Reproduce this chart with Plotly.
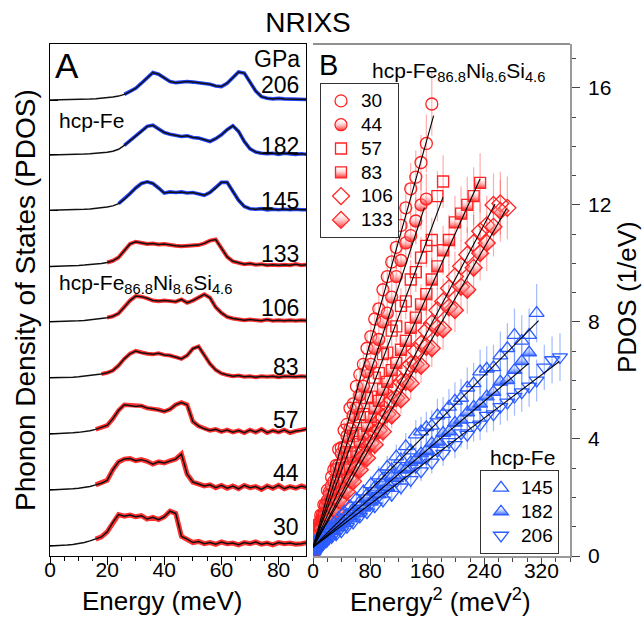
import plotly.graph_objects as go

# ---------------- Panel A data: stacked phonon DOS spectra ----------------
energy = [0, 2, 4, 6, 8, 10, 12, 14, 16, 18, 20, 22, 24, 26, 28, 30, 32, 34, 36, 38,
          40, 42, 44, 46, 48, 50, 52, 54, 56, 58, 60, 62, 64, 66, 68, 70, 72, 74, 76, 78,
          80, 82, 84, 86, 88, 90]
pressures = ["30", "44", "57", "83", "106", "133", "145", "182", "206"]

pdos_30 = [0, .002, .008, .015, .025, .04, .06, .09, .12, .16, .25, .42, .56, .53, .55, .52, .54, .48, .51, .47,
           .52, .62, .58, .17, .12, .06, .08, .04, .06, .03, .07, .04, .05, .02, .06, .04, .07, .03, .05, .02,
           .06, .04, .05, .03, .04, .06]
pdos_44 = [0, .002, .006, .012, .02, .03, .045, .06, .09, .12, .17, .36, .50, .55, .56, .52, .54, .51, .46, .50,
           .48, .52, .55, .64, .28, .14, .10, .07, .09, .04, .08, .03, .07, .02, .08, .04, .06, .01, .07, .03,
           .08, .02, .06, .03, .07, .04]
pdos_57 = [0, .002, .006, .01, .018, .027, .04, .055, .08, .11, .15, .27, .42, .52, .51, .49, .50, .46, .45, .43,
           .40, .44, .52, .56, .52, .22, .14, .09, .06, .08, .04, .07, .03, .06, .02, .07, .03, .08, .02, .06,
           .03, .07, .02, .05, .06, .09]
pdos_83 = [0, .001, .004, .008, .013, .02, .03, .04, .055, .07, .09, .13, .22, .34, .43, .48, .45, .43, .42, .44,
           .41, .40, .37, .34, .40, .52, .56, .40, .25, .14, .08, .05, .03, .04, .02, .03, .01, .03, .02, .03,
           .01, .03, .02, .02, .03, .02]
pdos_106 = [0, .001, .003, .007, .012, .018, .026, .035, .045, .058, .075, .10, .15, .26, .38, .46, .45, .42, .38, .37,
            .38, .37, .36, .40, .34, .38, .44, .49, .43, .26, .16, .09, .06, .05, .03, .04, .03, .02, .04, .02,
            .03, .02, .03, .02, .03, .02]
pdos_133 = [0, .001, .003, .006, .01, .016, .023, .031, .04, .052, .07, .10, .16, .28, .40, .44, .42, .40, .41, .39,
            .40, .38, .37, .36, .37, .37, .38, .41, .46, .48, .32, .17, .09, .06, .04, .05, .03, .04, .02, .03,
            .02, .03, .02, .04, .02, .03]
pdos_145 = [0, .001, .002, .005, .008, .012, .018, .025, .033, .045, .06, .08, .12, .20, .30, .40, .48, .51, .48, .40,
            .31, .33, .32, .33, .31, .32, .29, .27, .32, .40, .50, .50, .34, .18, .07, .03, .02, .03, .01, .02,
            .01, .02, .01, .02, .01, .01]
pdos_182 = [0, .001, .002, .004, .007, .01, .015, .02, .027, .036, .048, .065, .10, .17, .25, .33, .42, .51, .53, .46,
            .40, .37, .35, .33, .34, .31, .30, .27, .24, .29, .36, .45, .52, .42, .24, .11, .05, .03, .02, .03,
            .01, .03, .02, .01, .02, .01]
pdos_206 = [0, .001, .002, .004, .006, .009, .013, .018, .024, .031, .04, .052, .07, .10, .15, .21, .30, .40, .49, .46,
            .39, .33, .31, .32, .33, .32, .31, .30, .28, .25, .24, .30, .40, .50, .48, .33, .16, .06, .03, .02,
            .03, .02, .02, .01, .02, .01]
pdos_A = [pdos_30, pdos_44, pdos_57, pdos_83, pdos_106, pdos_133, pdos_145, pdos_182, pdos_206]

# ---------------- Panel B data: PDOS vs Energy^2 ----------------
e2_grid = [0.81, 1.44, 2.25, 3.24, 4.41, 5.76, 7.29, 9.0, 10.89, 12.96,
           15.21, 17.64, 20.25, 23.04, 26.01, 29.16, 32.49, 36.0, 39.69, 43.56,
           47.61, 51.84, 56.25, 60.84, 65.61, 70.56, 75.69, 81.0, 86.49, 92.16,
           98.01, 104.04, 110.25, 116.64, 123.21, 129.96, 136.89, 144.0, 151.29, 158.76,
           166.41, 174.24, 182.25, 190.44, 198.81, 207.36, 216.09, 225.0, 234.09, 243.36,
           252.81, 262.44, 272.25, 282.24, 292.41, 302.76, 313.29, 324.0, 334.89, 345.96]

dos_30 = [0.55, 0.30, 0.72, 0.48, 0.90, 0.65, 1.10, 0.98, 1.40, 1.30, 1.75, 1.70, 2.25, 2.20, 2.70, 2.95, 3.10,
          3.65, 3.70, 4.30, 4.50, 5.05, 5.20, 5.80, 6.20, 6.55, 7.10, 7.50, 8.10, 8.45, 9.10, 9.55, 10.05,
          10.55, 11.30, 11.90, 12.55, 12.95, 13.45, 14.10, 15.45]
dos_44 = [0.20, 0.55, 0.35, 0.70, 0.58, 0.90, 0.80, 1.12, 1.05, 1.40, 1.38, 1.75, 1.90, 2.10, 2.40, 2.55, 2.95,
          3.10, 3.50, 3.70, 4.10, 4.35, 4.80, 5.05, 5.50, 5.80, 6.30, 6.55, 7.10, 7.40, 8.00, 8.30, 8.85,
          9.55, 10.10, 10.70, 10.95, 11.45, 12.00, 12.20]
dos_57 = [0.45, 0.25, 0.60, 0.40, 0.75, 0.55, 0.95, 0.80, 1.15, 1.05, 1.40, 1.35, 1.75, 1.70, 2.10, 2.05, 2.55,
          2.50, 3.00, 2.95, 3.55, 3.50, 4.10, 4.20, 4.75, 4.85, 5.40, 5.45, 6.10, 6.25, 6.90, 6.95, 7.70,
          7.85, 8.55, 8.70, 9.45, 9.70, 10.20, 10.60, 10.80, 12.30, 12.80]
dos_83 = [0.50, 0.20, 0.55, 0.35, 0.70, 0.50, 0.85, 0.65, 1.00, 0.95, 1.20, 1.15, 1.45, 1.50, 1.75, 1.85, 2.10,
          2.30, 2.50, 2.60, 2.95, 3.05, 3.40, 3.55, 3.90, 4.15, 4.45, 4.75, 5.05, 5.30, 5.70, 5.95, 6.35,
          6.60, 7.05, 7.35, 7.80, 8.15, 8.60, 8.95, 9.45, 9.90, 10.45, 10.80, 11.40, 11.70, 12.00, 12.30, 12.75]
dos_106 = [0.40, 0.20, 0.50, 0.30, 0.60, 0.45, 0.75, 0.60, 0.90, 0.80, 1.05, 1.00, 1.25, 1.30, 1.45, 1.60, 1.75,
           1.95, 2.05, 2.30, 2.40, 2.70, 2.80, 3.15, 3.25, 3.60, 3.70, 4.10, 4.20, 4.60, 4.75, 5.15, 5.35,
           5.75, 5.95, 6.40, 6.55, 7.00, 7.25, 7.70, 7.95, 8.40, 8.70, 9.15, 9.55, 9.90, 10.30, 10.70, 11.10,
           11.30, 12.00, 12.05, 11.90]
dos_133 = [0.25, 0.45, 0.30, 0.55, 0.40, 0.65, 0.55, 0.75, 0.70, 0.95, 0.85, 1.10, 1.05, 1.35, 1.30, 1.60, 1.55,
           1.90, 1.85, 2.25, 2.20, 2.60, 2.55, 3.00, 2.95, 3.40, 3.35, 3.85, 3.80, 4.30, 4.25, 4.85, 4.80,
           5.40, 5.35, 5.95, 5.90, 6.55, 6.50, 7.15, 7.10, 7.80, 7.75, 8.50, 8.40, 9.20, 9.10, 9.85, 10.35,
           10.70, 11.25, 11.80]
dos_145 = [0.15, 0.45, 0.25, 0.50, 0.30, 0.55, 0.40, 0.62, 0.50, 0.75, 0.60, 0.85, 0.75, 0.98, 0.90, 1.12, 1.05,
           1.30, 1.20, 1.50, 1.40, 1.70, 1.60, 1.95, 1.85, 2.20, 2.10, 2.45, 2.35, 2.75, 2.65, 3.05, 2.95,
           3.40, 3.30, 3.75, 3.60, 4.15, 4.25, 4.40, 4.45, 4.80, 4.85, 5.10, 5.30, 5.40, 5.75, 5.90, 6.30,
           6.40, 6.45, 6.85, 7.10, 7.55, 7.35, 7.55, 8.30]
dos_182 = [0.40, 0.20, 0.45, 0.25, 0.50, 0.35, 0.55, 0.40, 0.60, 0.50, 0.70, 0.60, 0.80, 0.70, 0.92, 0.85, 1.05,
           0.98, 1.20, 1.12, 1.35, 1.28, 1.52, 1.45, 1.72, 1.65, 1.95, 1.85, 2.20, 2.10, 2.45, 2.35, 2.70,
           2.65, 2.95, 2.95, 3.20, 3.30, 3.50, 3.60, 3.85, 3.90, 4.20, 4.25, 4.55, 4.65, 4.90, 5.10, 5.20,
           5.45, 5.60, 5.95, 6.00, 6.35, 6.65, 6.95]
dos_206 = [0.20, 0.40, 0.25, 0.45, 0.30, 0.50, 0.35, 0.55, 0.40, 0.62, 0.45, 0.70, 0.55, 0.80, 0.65, 0.90, 0.75,
           1.02, 0.85, 1.15, 1.00, 1.30, 1.15, 1.45, 1.35, 1.62, 1.50, 1.80, 1.70, 2.05, 1.90, 2.30, 2.10,
           2.55, 2.35, 2.80, 2.60, 3.05, 2.90, 3.35, 3.20, 3.60, 3.50, 3.90, 3.80, 4.20, 4.15, 4.45, 4.50,
           4.80, 4.85, 5.10, 5.25, 5.45, 5.60, 5.80, 6.00, 6.45, 6.70, 6.80]
dos_B = [dos_30, dos_44, dos_57, dos_83, dos_106, dos_133, dos_145, dos_182, dos_206]

err_pct = [7, 7, 7, 8, 9, 9, 12, 12, 12]
fit_intercept = 0.3
fit_slope = [0.0873, 0.0744, 0.0657, 0.0538, 0.046, 0.0427, 0.0245, 0.0208, 0.0184]
fit_xmax = [169, 156, 182, 234, 255, 271, 316, 302, 345]

# ---------------- styling / layout parameters ----------------
offsets = [0.18, 1.18, 2.18, 3.18, 4.18, 5.17, 6.17, 7.16, 8.14]
band_start = [16, 16, 16, 18, 20, 20, 24, 26, 26]
band_width = [5, 5, 4.5, 4, 4, 4, 3.6, 3.6, 3.6]
label_dy = [0.34, 0.30, 0.25, 0.20, 0.25, 0.23, 0.17, 0.16, 0.27]
symbols = ['circle-open', 'circle', 'square-open', 'square', 'diamond-open', 'diamond',
           'triangle-up-open', 'triangle-up', 'triangle-down-open']
half_filled = [False, True, False, True, False, True, False, True, False]
msize = [12, 12, 11, 11, 13, 13, 13, 13, 13]

RED = '#ff2323'
BLUE = '#2b5cff'
BAND_RED = '#ff3030'
BAND_BLUE = '#2244ff'
ERR_RED = 'rgba(255,70,70,0.45)'
ERR_BLUE = 'rgba(70,120,255,0.5)'
FONT = 'Arial, Liberation Sans, sans-serif'

W, H = 643, 629
ML, MR, MT, MB = 50, 73, 44, 73
PW = W - ML - MR
PH = H - MT - MB


def px_x(px):
    return (px - ML) / PW


def px_y(py):
    return (H - MB - py) / PH


fig = go.Figure()

# Panel A spectra
for i, (p, y) in enumerate(zip(pressures, pdos_A)):
    col = BAND_BLUE if i >= 6 else BAND_RED
    xs = [e for e in energy if e >= band_start[i]]
    ys = [v + offsets[i] for e, v in zip(energy, y) if e >= band_start[i]]
    fig.add_trace(go.Scatter(x=xs, y=ys, mode='lines', line=dict(color=col, width=band_width[i]),
                             xaxis='x', yaxis='y', showlegend=False, hoverinfo='skip'))
    fig.add_trace(go.Scatter(x=energy, y=[v + offsets[i] for v in y], mode='lines',
                             line=dict(color='#111111', width=1.5),
                             xaxis='x', yaxis='y', showlegend=False, hoverinfo='skip'))

# Panel B markers
for i, p in enumerate(pressures):
    col = RED if i < 6 else BLUE
    n = len(dos_B[i])
    marker = dict(symbol=symbols[i], size=msize[i], line=dict(color=col, width=1.3))
    if half_filled[i]:
        marker.update(color='rgba(255,255,255,0)', gradient=dict(type='vertical', color=col))
    else:
        marker.update(color=col)
    fig.add_trace(go.Scatter(
        x=e2_grid[:n], y=dos_B[i], mode='markers', marker=marker,
        error_y=dict(type='percent', value=err_pct[i], color=ERR_RED if i < 6 else ERR_BLUE,
                     thickness=1.2, width=0),
        xaxis='x2', yaxis='y2',
        name='<span style="font-size:19px">%s</span>' % p,
        legend='legend' if i < 6 else 'legend2', showlegend=True))

# Panel B fit lines
for i in range(len(pressures)):
    fig.add_trace(go.Scatter(
        x=[0, fit_xmax[i]], y=[fit_intercept, fit_intercept + fit_slope[i] * fit_xmax[i]],
        mode='lines', line=dict(color='black', width=1.1),
        xaxis='x2', yaxis='y2', showlegend=False, hoverinfo='skip'))

annotations = []
# pressure labels in panel A
for i, p in enumerate(pressures):
    annotations.append(dict(text=p, x=87.8, y=offsets[i] + label_dy[i], xref='x', yref='y',
                            xanchor='right', yanchor='middle', showarrow=False,
                            font=dict(size=23, color='black', family=FONT)))
annotations += [
    dict(text='GPa', x=px_x(302), y=px_y(59), xref='paper', yref='paper', xanchor='right',
         yanchor='middle', showarrow=False, font=dict(size=23, color='black', family=FONT)),
    dict(text='A', x=px_x(67), y=px_y(65), xref='paper', yref='paper', xanchor='center',
         yanchor='middle', showarrow=False, font=dict(size=35, color='black', family=FONT)),
    dict(text='B', x=px_x(328), y=px_y(65), xref='paper', yref='paper', xanchor='center',
         yanchor='middle', showarrow=False, font=dict(size=29, color='black', family=FONT)),
    dict(text='hcp-Fe', x=px_x(57), y=px_y(120), xref='paper', yref='paper', xanchor='left',
         yanchor='middle', showarrow=False, font=dict(size=21, color='black', family=FONT)),
    dict(text='hcp-Fe<sub>86.8</sub>Ni<sub>8.6</sub>Si<sub>4.6</sub>', x=px_x(57), y=px_y(284),
         xref='paper', yref='paper', xanchor='left', yanchor='middle', showarrow=False,
         font=dict(size=21, color='black', family=FONT)),
    dict(text='hcp-Fe<sub>86.8</sub>Ni<sub>8.6</sub>Si<sub>4.6</sub>', x=px_x(370), y=px_y(72),
         xref='paper', yref='paper', xanchor='left', yanchor='middle', showarrow=False,
         font=dict(size=21, color='black', family=FONT)),
    dict(text='hcp-Fe', x=px_x(522), y=px_y(457), xref='paper', yref='paper', xanchor='center',
         yanchor='middle', showarrow=False, font=dict(size=21, color='black', family=FONT)),
    dict(text='Phonon Density of States (PDOS)', x=px_x(25), y=px_y(300), xref='paper',
         yref='paper', xanchor='center', yanchor='middle', textangle=-90, showarrow=False,
         font=dict(size=28, color='black', family=FONT)),
    dict(text='PDOS (1/eV)', x=px_x(627), y=px_y(297), xref='paper', yref='paper',
         xanchor='center', yanchor='middle', textangle=-90, showarrow=False,
         font=dict(size=26, color='black', family=FONT)),
    dict(text='Energy (meV)', x=px_x(162), y=px_y(601), xref='paper', yref='paper',
         xanchor='center', yanchor='middle', showarrow=False,
         font=dict(size=26, color='black', family=FONT)),
    dict(text='Energy<sup>2</sup> (meV<sup>2</sup>)', x=px_x(440), y=px_y(600), xref='paper',
         yref='paper', xanchor='center', yanchor='middle', showarrow=False,
         font=dict(size=26, color='black', family=FONT)),
]

xa_dom = [0, px_x(306)]
xb_dom = [px_x(313), 1]

fig.update_layout(
    width=W, height=H, autosize=False,
    margin=dict(l=ML, r=MR, t=MT, b=MB, pad=0),
    paper_bgcolor='white', plot_bgcolor='white',
    font=dict(family=FONT, color='black', size=21),
    title=dict(text='NRIXS', x=308 / W, xanchor='center', y=1 - 22 / H, yanchor='middle',
               xref='container', yref='container', font=dict(size=28, color='black', family=FONT)),
    xaxis=dict(domain=xa_dom, range=[0, 89.6], anchor='y', showline=True, linecolor='black',
               linewidth=1.2, mirror=True, ticks='outside', ticklen=8, tickwidth=1.2,
               tickcolor='black', tick0=0, dtick=20, showgrid=False, zeroline=False,
               minor=dict(dtick=5, ticks='outside', ticklen=4, tickcolor='black', tickwidth=1),
               ticklabelstandoff=-13, tickfont=dict(size=21, family=FONT)),
    yaxis=dict(domain=[0, 1], range=[0, 9.14], anchor='x', showline=True, linecolor='black',
               linewidth=1.2, mirror=True, ticks='inside', tickvals=offsets, ticklen=8,
               tickcolor='black', showticklabels=False, showgrid=False, zeroline=False),
    xaxis2=dict(domain=xb_dom, range=[0, 360], anchor='y2', showline=True, linecolor='#9a9a9a',
                linewidth=1.6, mirror=False, ticks='outside', ticklen=8, tickwidth=1.2,
                tickcolor='#444444', tick0=0, dtick=80, showgrid=False, zeroline=False,
                minor=dict(dtick=20, ticks='outside', ticklen=4, tickcolor='#444444', tickwidth=1),
                ticklabelstandoff=-13, tickfont=dict(size=21, family=FONT)),
    yaxis2=dict(domain=[0, 1], range=[0, 17.5], anchor='x2', side='right', showline=True,
                linecolor='#9a9a9a', linewidth=1.6, ticks='outside', ticklen=8, tickwidth=1.2,
                tickcolor='#444444', tick0=0, dtick=4, showgrid=False, zeroline=False,
                minor=dict(dtick=1, ticks='outside', ticklen=4, tickcolor='#444444', tickwidth=1),
                ticklabelstandoff=4, tickfont=dict(size=21, family=FONT)),
    yaxis3=dict(range=[0, 17.5], overlaying='y2', anchor='x2', side='left', showline=True,
                linecolor='#9a9a9a', linewidth=1.6, ticks='inside', ticklen=4, tickwidth=1,
                tickcolor='#666666', tick0=0, dtick=1, showticklabels=False, showgrid=False,
                zeroline=False),
    legend=dict(x=px_x(320), y=px_y(83), xanchor='left', yanchor='top', xref='paper',
                yref='paper', bgcolor='white', bordercolor='#333333', borderwidth=1,
                font=dict(size=16, family=FONT, color='black'), tracegroupgap=0,
                itemwidth=30, traceorder='normal'),
    legend2=dict(x=px_x(480), y=px_y(470), xanchor='left', yanchor='top', xref='paper',
                 yref='paper', bgcolor='white', bordercolor='#333333', borderwidth=1,
                 font=dict(size=16, family=FONT, color='black'), tracegroupgap=0,
                 itemwidth=30, traceorder='normal'),
    annotations=annotations,
    shapes=[dict(type='line', xref='x2 domain', yref='y2 domain', x0=0, x1=1, y0=1, y1=1,
                 line=dict(color='#222222', width=1.2))],
    showlegend=True,
)

fig.write_html("out.html")
